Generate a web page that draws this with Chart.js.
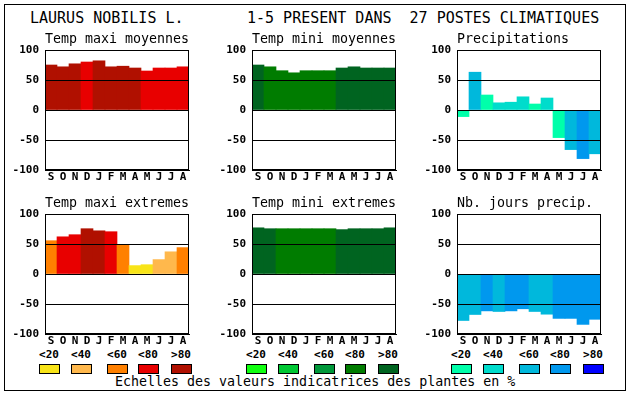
<!DOCTYPE html>
<html>
<head>
<meta charset="utf-8">
<script src="https://cdn.jsdelivr.net/npm/chart.js@4.4.1/dist/chart.umd.min.js"></script>
<style>
  body { margin: 0; background: #fff; width: 630px; height: 394px; position: relative; overflow: hidden; }
  .frame { position: absolute; left: 4px; top: 4px; width: 620px; height: 385px; border: 1px solid #000; }
  .txt { position: absolute; font-family: 'DejaVu Sans Mono', monospace; color: #000; white-space: pre; line-height: 1; }
  .title { font-size: 15px; }
  .sub { font-size: 13.3px; }
  .leg { font-size: 11px; font-weight: bold; width: 30px; text-align: center; }
  .box { position: absolute; width: 19px; height: 8px; border: 1px solid #000; }
  canvas { position: absolute; }
</style>
</head>
<body>
<div class="frame"></div>
<div class="txt title" style="left:30px; top:11px;">LAURUS NOBILIS L.</div>
<div class="txt title" style="left:247px; top:11px;">1-5 PRESENT DANS  27 POSTES CLIMATIQUES</div>
<div class="txt sub" style="left:115px; top:375px;">Echelles des valeurs indicatrices des plantes en %</div>
<div id="legends"></div>
<canvas id="c1" width="191" height="150"></canvas>
<canvas id="c2" width="191" height="150"></canvas>
<canvas id="c3" width="191" height="150"></canvas>
<canvas id="c4" width="191" height="150"></canvas>
<canvas id="c5" width="191" height="150"></canvas>
<canvas id="c6" width="191" height="150"></canvas>
<script>
'use strict';

// mois (septembre -> aout)
const months = ['S', 'O', 'N', 'D', 'J', 'F', 'M', 'A', 'M', 'J', 'J', 'A'];
const yTicks = [100, 50, 0, -50, -100];
const classLabels = ['<20', '<40', '<60', '<80', '>80'];

// valeurs
const tmaxMoy = [75, 72, 77, 80, 82, 72, 73, 70, 65, 70, 70, 72];
const tmaxMoyCls = [4, 4, 4, 3, 4, 4, 4, 4, 3, 3, 3, 3];
const tminMoy = [75, 72, 65.5, 62, 65.5, 65.5, 65.5, 70, 72, 70, 70, 70];
const tminMoyCls = [4, 3, 3, 3, 3, 3, 3, 4, 4, 4, 4, 4];
const precip = [-11, 63, 25, 12, 13, 22, 10, 20, -46, -66, -81, -73];
const precipCls = [0, 2, 0, 1, 1, 1, 0, 1, 0, 2, 3, 2];
const tmaxExt = [55.5, 62, 65.5, 75.5, 72, 70.5, 49, 14, 15.5, 24, 37, 44];
const tmaxExtCls = [2, 3, 3, 4, 4, 3, 2, 0, 0, 1, 1, 2];
const tminExt = [77, 75.5, 75.5, 75.5, 75.5, 75.5, 75.5, 74, 75.5, 75.5, 75.5, 77];
const tminExtCls = [4, 4, 3, 3, 3, 3, 3, 4, 4, 4, 4, 4];
const nbJours = [-77.5, -67.5, -61.5, -62.5, -61.5, -58, -62.5, -67, -74, -74, -84, -75.5];
const nbJoursCls = [2, 2, 3, 2, 3, 3, 2, 2, 3, 3, 3, 3];

// palettes des classes
const redScale = ['#f8e418', '#ffb84c', '#ff8000', '#e80000', '#b01000'];
const greenScale = ['#10ff10', '#00c834', '#00983a', '#007c00', '#006420'];
const blueScale = ['#00ffaa', '#00dccc', '#00b8dc', '#0098ee', '#0000ff'];

const colX = [45, 252, 457];
const rowY = [50, 214];
const plotW = 144, plotH = 120;
const axisW = 45, padTop = 14, axisH = 22;

const panels = [
    { id: 'c1', title: 'Temp maxi moyennes', values: tmaxMoy, cls: tmaxMoyCls, pal: redScale, col: 0, row: 0 },
    { id: 'c2', title: 'Temp mini moyennes', values: tminMoy, cls: tminMoyCls, pal: greenScale, col: 1, row: 0 },
    { id: 'c3', title: 'Precipitations', values: precip, cls: precipCls, pal: blueScale, col: 2, row: 0 },
    { id: 'c4', title: 'Temp maxi extremes', values: tmaxExt, cls: tmaxExtCls, pal: redScale, col: 0, row: 1 },
    { id: 'c5', title: 'Temp mini extremes', values: tminExt, cls: tminExtCls, pal: greenScale, col: 1, row: 1 },
    { id: 'c6', title: 'Nb. jours precip.', values: nbJours, cls: nbJoursCls, pal: blueScale, col: 2, row: 1 }
];

// cadre du graphique (haut et droite)
const boxPlugin = {
    id: 'box',
    afterDraw(chart) {
        const a = chart.chartArea;
        const ctx = chart.ctx;
        ctx.save();
        ctx.strokeStyle = '#000';
        ctx.lineWidth = 1;
        ctx.strokeRect(Math.round(a.left) + 0.5, Math.round(a.top) + 0.5, Math.round(a.right - a.left) - 1, Math.round(a.bottom - a.top) - 1);
        ctx.restore();
    }
};

const tickFont = { family: 'DejaVu Sans Mono', size: 11, weight: 'bold' };

panels.forEach(p => {
    const cv = document.getElementById(p.id);
    const left = colX[p.col] - axisW;
    const top = rowY[p.row] - padTop;
    cv.style.left = left + 'px';
    cv.style.top = top + 'px';
    cv.width = axisW + plotW + 2;
    cv.height = padTop + plotH + axisH;

    // titre du panneau
    const t = document.createElement('div');
    t.className = 'txt sub';
    t.textContent = p.title;
    t.style.left = colX[p.col] + 'px';
    t.style.top = (rowY[p.row] - 18) + 'px';
    document.body.appendChild(t);

    new Chart(cv.getContext('2d'), {
        type: 'bar',
        data: {
            labels: months,
            datasets: [{
                data: p.values,
                backgroundColor: p.cls.map(c => p.pal[c]),
                borderWidth: 0,
                barPercentage: 1,
                categoryPercentage: 1
            }]
        },
        options: {
            responsive: false,
            animation: false,
            events: [],
            layout: { padding: { top: padTop, right: 2, left: 0, bottom: 0 } },
            plugins: { legend: { display: false }, tooltip: { enabled: false } },
            scales: {
                x: {
                    grid: { display: false, drawTicks: false },
                    border: { display: true, color: '#000', width: 1, z: 1 },
                    ticks: { color: '#000', font: tickFont, padding: 1, maxRotation: 0, autoSkip: false },
                    afterFit(s) { s.height = axisH; }
                },
                y: {
                    min: -100,
                    max: 100,
                    afterBuildTicks(s) { s.ticks = yTicks.map(v => ({ value: v })); },
                    grid: { color: '#000', lineWidth: 1, drawTicks: false, z: 1 },
                    border: { display: true, color: '#000', width: 1, z: 1 },
                    ticks: { color: '#000', font: tickFont, padding: 6 },
                    afterFit(s) { s.width = axisW; }
                }
            }
        },
        plugins: [boxPlugin]
    });
});

// legendes des classes
const legOffsets = [-6, 26, 62, 93, 126];
const legPal = [redScale, greenScale, blueScale];
const legends = document.getElementById('legends');
colX.forEach((x0, ci) => {
    legOffsets.forEach((off, k) => {
        const lab = document.createElement('div');
        lab.className = 'txt leg';
        lab.textContent = classLabels[k];
        lab.style.left = (x0 + off - 5) + 'px';
        lab.style.top = '349px';
        legends.appendChild(lab);

        const b = document.createElement('div');
        b.className = 'box';
        b.style.left = (x0 + off) + 'px';
        b.style.top = '364px';
        b.style.background = legPal[ci][k];
        legends.appendChild(b);
    });
});
</script>
</body>
</html>
